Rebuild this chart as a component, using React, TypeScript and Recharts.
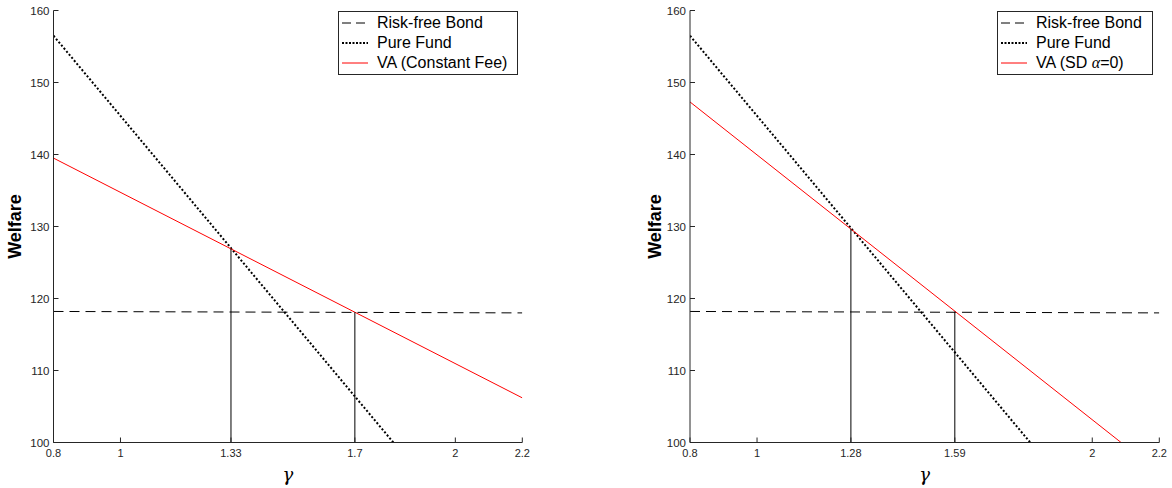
import React from 'react'
import { LineChart, Line, XAxis, YAxis } from 'recharts'

// shared series
const bondX = [0.8, 2.2]
const bondY = [118.2, 118.0]
const fundX = [0.8, 1.815]
const fundY = [156.5, 100]

// left panel: VA with constant fee
const vaConstX = [0.8, 2.2]
const vaConstY = [139.5, 106.2]
const leftCutX = [1.33, 1.7]
const leftCutY = [126.9, 118.1]
const leftTicks = [0.8, 1, 1.33, 1.7, 2, 2.2]

// right panel: VA state-dependent, alpha = 0
const vaSdX = [0.8, 2.086]
const vaSdY = [147.3, 100]
const rightCutX = [1.28, 1.59]
const rightCutY = [129.7, 118.2]
const rightTicks = [0.8, 1, 1.28, 1.59, 2, 2.2]

const yTicks = [100, 110, 120, 130, 140, 150, 160]

const AX = '#262626'
const FONT = '"Liberation Sans", Arial, Helvetica, sans-serif'

const pts = (xs: number[], ys: number[]) => xs.map((x, i) => ({ x, y: ys[i] }))

const BottomTick = (p: any) => (
  <g>
    <line x1={p.x} x2={p.x} y1={p.y} y2={p.y - 5} stroke={AX} />
    <text x={p.x} y={p.y + 14} textAnchor="middle" fontSize={11} fill={AX} fontFamily={FONT}>
      {String(p.payload.value)}
    </text>
  </g>
)
const TopTick = (p: any) => <line x1={p.x} x2={p.x} y1={p.y} y2={p.y + 5} stroke={AX} />
const LeftTick = (p: any) => (
  <g>
    <line x1={p.x} x2={p.x + 5} y1={p.y} y2={p.y} stroke={AX} />
    <text x={p.x - 4} y={p.y} dy="0.35em" textAnchor="end" fontSize={11.5} fill={AX} fontFamily={FONT}>
      {String(p.payload.value)}
    </text>
  </g>
)
const RightTick = (p: any) => <line x1={p.x} x2={p.x - 5} y1={p.y} y2={p.y} stroke={AX} />

function Panel({ va, cuts, ticks, yw, mr, lx }: any) {
  return (
    <LineChart width={586} height={488} margin={{ top: 10.5, right: mr, bottom: 0, left: 0 }}>
      <XAxis
        xAxisId="b" dataKey="x" type="number" domain={[0.8, 2.2]} ticks={ticks} allowDataOverflow
        height={45.5} tickSize={0} tickMargin={0} tickLine={false} tick={BottomTick}
        axisLine={{ stroke: AX }}
        label={(p: any) => (
          <text x={p.viewBox.x + p.viewBox.width / 2} y={481} textAnchor="middle"
            fontSize={18} fontStyle="italic" fontFamily='"DejaVu Serif", serif' fill="#000">γ</text>
        )}
      />
      <XAxis
        xAxisId="t" orientation="top" dataKey="x" type="number" domain={[0.8, 2.2]} ticks={ticks} allowDataOverflow
        height={0} tickSize={0} tickMargin={0} tickLine={false} tick={TopTick} axisLine={{ stroke: AX }}
      />
      <YAxis
        yAxisId="l" type="number" domain={[100, 160]} ticks={yTicks} allowDataOverflow
        width={yw} tickSize={0} tickMargin={0} tickLine={false} tick={LeftTick} axisLine={{ stroke: AX }}
        label={(p: any) => (
          <text x={lx} y={p.viewBox.y + p.viewBox.height / 2} textAnchor="middle" dominantBaseline="central"
            transform={`rotate(-90, ${lx}, ${p.viewBox.y + p.viewBox.height / 2})`}
            fontSize={18} fontWeight="bold" fontFamily={FONT} fill="#000">Welfare</text>
        )}
      />
      <YAxis
        yAxisId="r" orientation="right" type="number" domain={[100, 160]} ticks={yTicks} allowDataOverflow
        width={0} tickSize={0} tickMargin={0} tickLine={false} tick={RightTick} axisLine={{ stroke: AX }}
      />
      <Line xAxisId="b" yAxisId="l" data={pts(bondX, bondY)} dataKey="y" stroke="#000" strokeWidth={1}
        strokeDasharray="10 6" dot={false} activeDot={false} isAnimationActive={false} />
      <Line xAxisId="b" yAxisId="l" data={pts(fundX, fundY)} dataKey="y" stroke="#000" strokeWidth={2}
        strokeDasharray="2 2" dot={false} activeDot={false} isAnimationActive={false} />
      <Line xAxisId="b" yAxisId="l" data={pts(va.x, va.y)} dataKey="y" stroke="#ff0000" strokeWidth={1}
        dot={false} activeDot={false} isAnimationActive={false} />
      {cuts.x.map((cx: number, i: number) => (
        <Line key={i} xAxisId="b" yAxisId="l" data={pts([cx, cx], [100, cuts.y[i]])} dataKey="y"
          stroke="#000" strokeWidth={1} dot={false} activeDot={false} isAnimationActive={false} />
      ))}
    </LineChart>
  )
}

function LegendBox({ left, width, va }: { left: number; width: number; va: React.ReactNode }) {
  const row = { display: 'flex', alignItems: 'center', height: 20, whiteSpace: 'nowrap' as const }
  const sample = (dash: string, color: string, w: number) => (
    <svg width={34} height={10} style={{ marginRight: 4, flex: 'none' }}>
      <line x1={3} x2={29} y1={5} y2={5} stroke={color} strokeWidth={w} strokeDasharray={dash} />
    </svg>
  )
  return (
    <div style={{ position: 'absolute', left, top: 11, width, border: `1px solid ${AX}`, background: '#fff',
      fontFamily: FONT, fontSize: 16, color: '#000', padding: '1px 0', boxSizing: 'border-box' }}>
      <div style={row}>{sample('9 5', '#000', 1)}Risk-free Bond</div>
      <div style={row}>{sample('2 1.5', '#000', 2)}Pure Fund</div>
      <div style={row}>{sample('', '#ff0000', 1)}{va}</div>
    </div>
  )
}

export default function App() {
  return (
    <div style={{ position: 'absolute', left: 0, top: 0, width: 1172, height: 488, background: '#fff' }}>
      <div style={{ position: 'absolute', left: 0, top: 0 }}>
        <Panel va={{ x: vaConstX, y: vaConstY }} cuts={{ x: leftCutX, y: leftCutY }} ticks={leftTicks}
          yw={53.5} mr={63.7} lx={15} />
      </div>
      <div style={{ position: 'absolute', left: 586, top: 0 }}>
        <Panel va={{ x: vaSdX, y: vaSdY }} cuts={{ x: rightCutX, y: rightCutY }} ticks={rightTicks}
          yw={104} mr={12.7} lx={69} />
      </div>
      <LegendBox left={338} width={180} va={<span>VA (Constant Fee)</span>} />
      <LegendBox left={997} width={156} va={<span>VA (SD <i style={{ fontFamily: '"Liberation Serif", serif' }}>α</i>=0)</span>} />
    </div>
  )
}
